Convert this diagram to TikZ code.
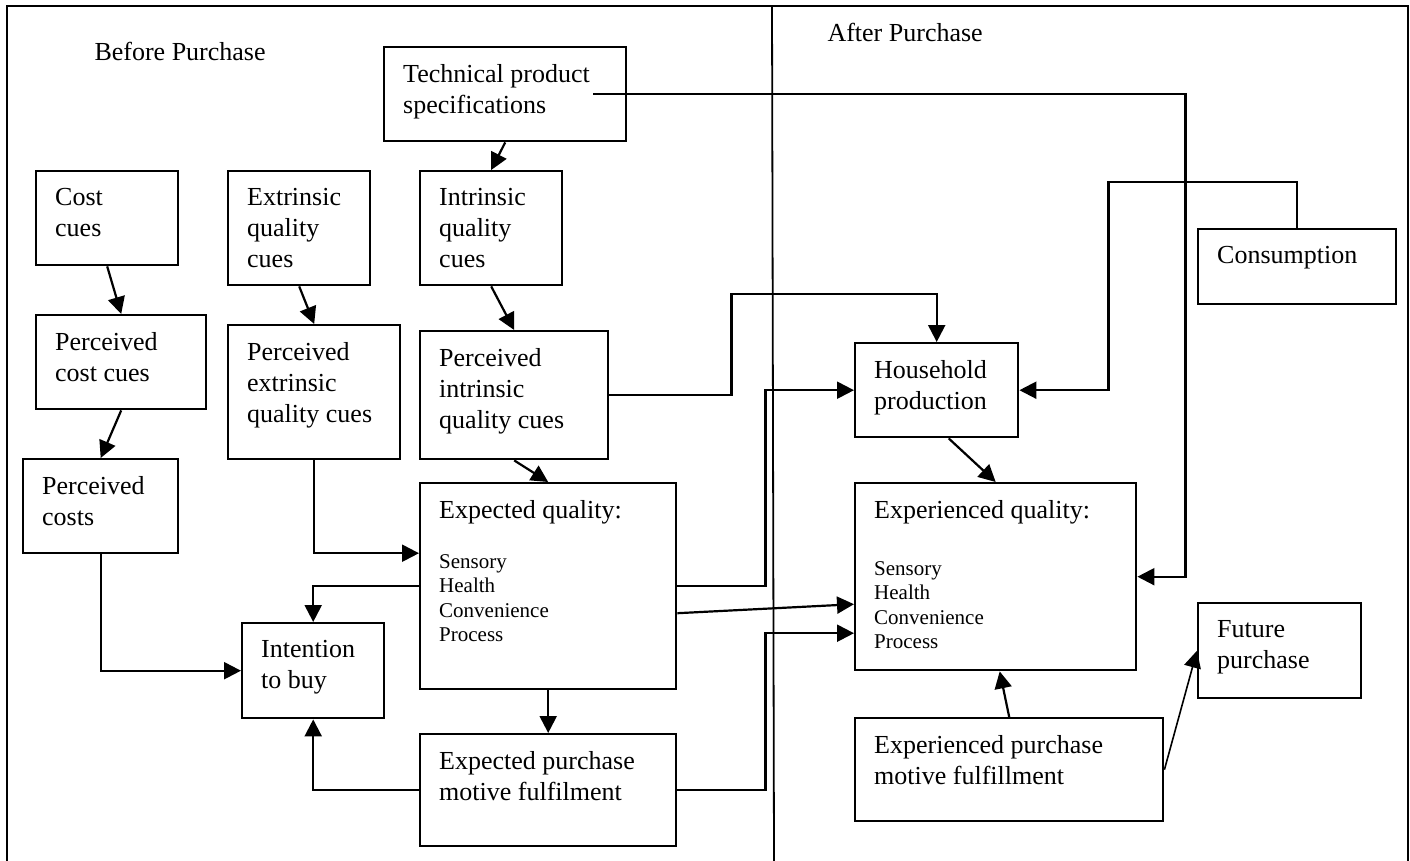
\documentclass[tikz,border=0pt]{standalone}
\usepackage{fontspec}
\setmainfont{Liberation Serif}
\usetikzlibrary{arrows.meta}

\begin{document}
\begin{tikzpicture}[x=1pt, y=-1pt,
    box/.style={draw, line width=2.4pt, anchor=north west, inner sep=0pt},
    txt/.style={anchor=north west, inner xsep=20pt, inner ysep=18pt, align=left, font=\fontsize{26}{31}\selectfont},
    sm/.style={anchor=north west, inner xsep=20pt, inner ysep=18pt, align=left, font=\fontsize{21}{24.5}\selectfont},
    arr/.style={line width=2.2pt, -{Triangle[length=17pt, width=17pt]}}]
  \useasboundingbox (0,0) rectangle (1410,861);

  % Frame and divider
  \draw[line width=2.4pt] (7,861) -- (7,6) -- (1408,6) -- (1408,861);
  \draw[line width=1.8pt] (772,6) -- (774,861);
  \node[anchor=base west, font=\fontsize{26}{31}\selectfont] (before) at (91,61) {Before Purchase};
  \node[anchor=base west, font=\fontsize{26}{31}\selectfont] (after) at (824,42) {After Purchase};

  % Before purchase
  \node[box, minimum width=242, minimum height=94, label={[txt]north west:{Technical product\\specifications}}] (tech) at (383,46) {};
  \node[box, minimum width=142, minimum height=94, label={[txt]north west:{Cost\\cues}}] (cost) at (35,170) {};
  \node[box, minimum width=142, minimum height=114, label={[txt]north west:{Extrinsic\\quality\\cues}}] (extr) at (227,170) {};
  \node[box, minimum width=142, minimum height=114, label={[txt]north west:{Intrinsic\\quality\\cues}}] (intr) at (419,170) {};
  \node[box, minimum width=170, minimum height=94, label={[txt]north west:{Perceived\\cost cues}}] (pcost) at (35,314) {};
  \node[box, minimum width=172, minimum height=134, label={[txt]north west:{Perceived\\extrinsic\\quality cues}}] (pextr) at (227,324) {};
  \node[box, minimum width=188, minimum height=128, label={[txt]north west:{Perceived\\intrinsic\\quality cues}}] (pintr) at (419,330) {};
  \node[box, minimum width=155, minimum height=94, label={[txt]north west:{Perceived\\costs}}] (pcosts) at (22,458) {};
  \node[box, minimum width=256, minimum height=206, label={[txt]north west:{Expected quality:}},
        label={[sm, yshift=-54pt]north west:{Sensory\\Health\\Convenience\\Process}}] (expq) at (419,482) {};
  \node[box, minimum width=142, minimum height=95, label={[txt]north west:{Intention\\to buy}}] (intent) at (241,622) {};
  \node[box, minimum width=256, minimum height=112, label={[txt]north west:{Expected purchase\\motive fulfilment}}] (expm) at (419,733) {};

  % After purchase
  \node[box, minimum width=163, minimum height=94, label={[txt]north west:{Household\\production}}] (house) at (854,342) {};
  \node[box, minimum width=198, minimum height=75, label={[txt]north west:{Consumption}}] (cons) at (1197,228) {};
  \node[box, minimum width=281, minimum height=187, label={[txt]north west:{Experienced quality:}},
        label={[sm, yshift=-61pt]north west:{Sensory\\Health\\Convenience\\Process}}] (expq2) at (854,482) {};
  \node[box, minimum width=163, minimum height=95, label={[txt]north west:{Future\\purchase}}] (future) at (1197,602) {};
  \node[box, minimum width=308, minimum height=103, label={[txt]north west:{Experienced purchase\\motive fulfillment}}] (expm2) at (854,717) {};

  % Arrows before purchase
  \draw[arr] (tech.south) -- (intr.north);
  \draw[arr] (cost.south) -- (pcost.north);
  \draw[arr] (pcost.south) -- (pcosts.north);
  \draw[arr] (extr.south) -- (pextr.north);
  \draw[arr] (intr.south) -- (pintr.north);
  \draw[arr] (pintr.south) -- (expq.north);
  \draw[arr] (pextr.south) |- ([yshift=33pt]expq.west);
  \draw[arr] (pcosts.south) |- (intent.west);
  \draw[arr] (expq.west) -| (intent.north);
  \draw[arr] (expm.west) -| (intent.south);
  \draw[arr] (expq.south) -- (expm.north);

  % Arrows across
  \draw[arr] ([xshift=-34pt]tech.east) -| ([xshift=48pt]expq2.east) -- (expq2.east);
  \draw[arr] (pintr.east) -- ++(122,0) |- ([yshift=48pt]house.north) -- (house.north);
  \draw[arr] (expq.east) -- ++(88,0) |- (house.west);
  \draw[arr] ([yshift=-27pt]expq.east) -- ([yshift=-27.5pt]expq2.west);
  \draw[arr] (expm.east) -- ++(88,0) |- ([yshift=-56.5pt]expq2.west);

  % Arrows after purchase
  \draw[arr] (cons.north) |- ([shift={(89pt,208pt)}]house.east) |- (house.east);
  \draw[arr] ([xshift=12pt]house.south) -- (expq2.north);
  \draw[arr] (expm2.north) -- ([xshift=4pt]expq2.south);
  \draw[arr, line width=1.6pt] (expm2.east) -- (future.west);
\end{tikzpicture}
\end{document}
